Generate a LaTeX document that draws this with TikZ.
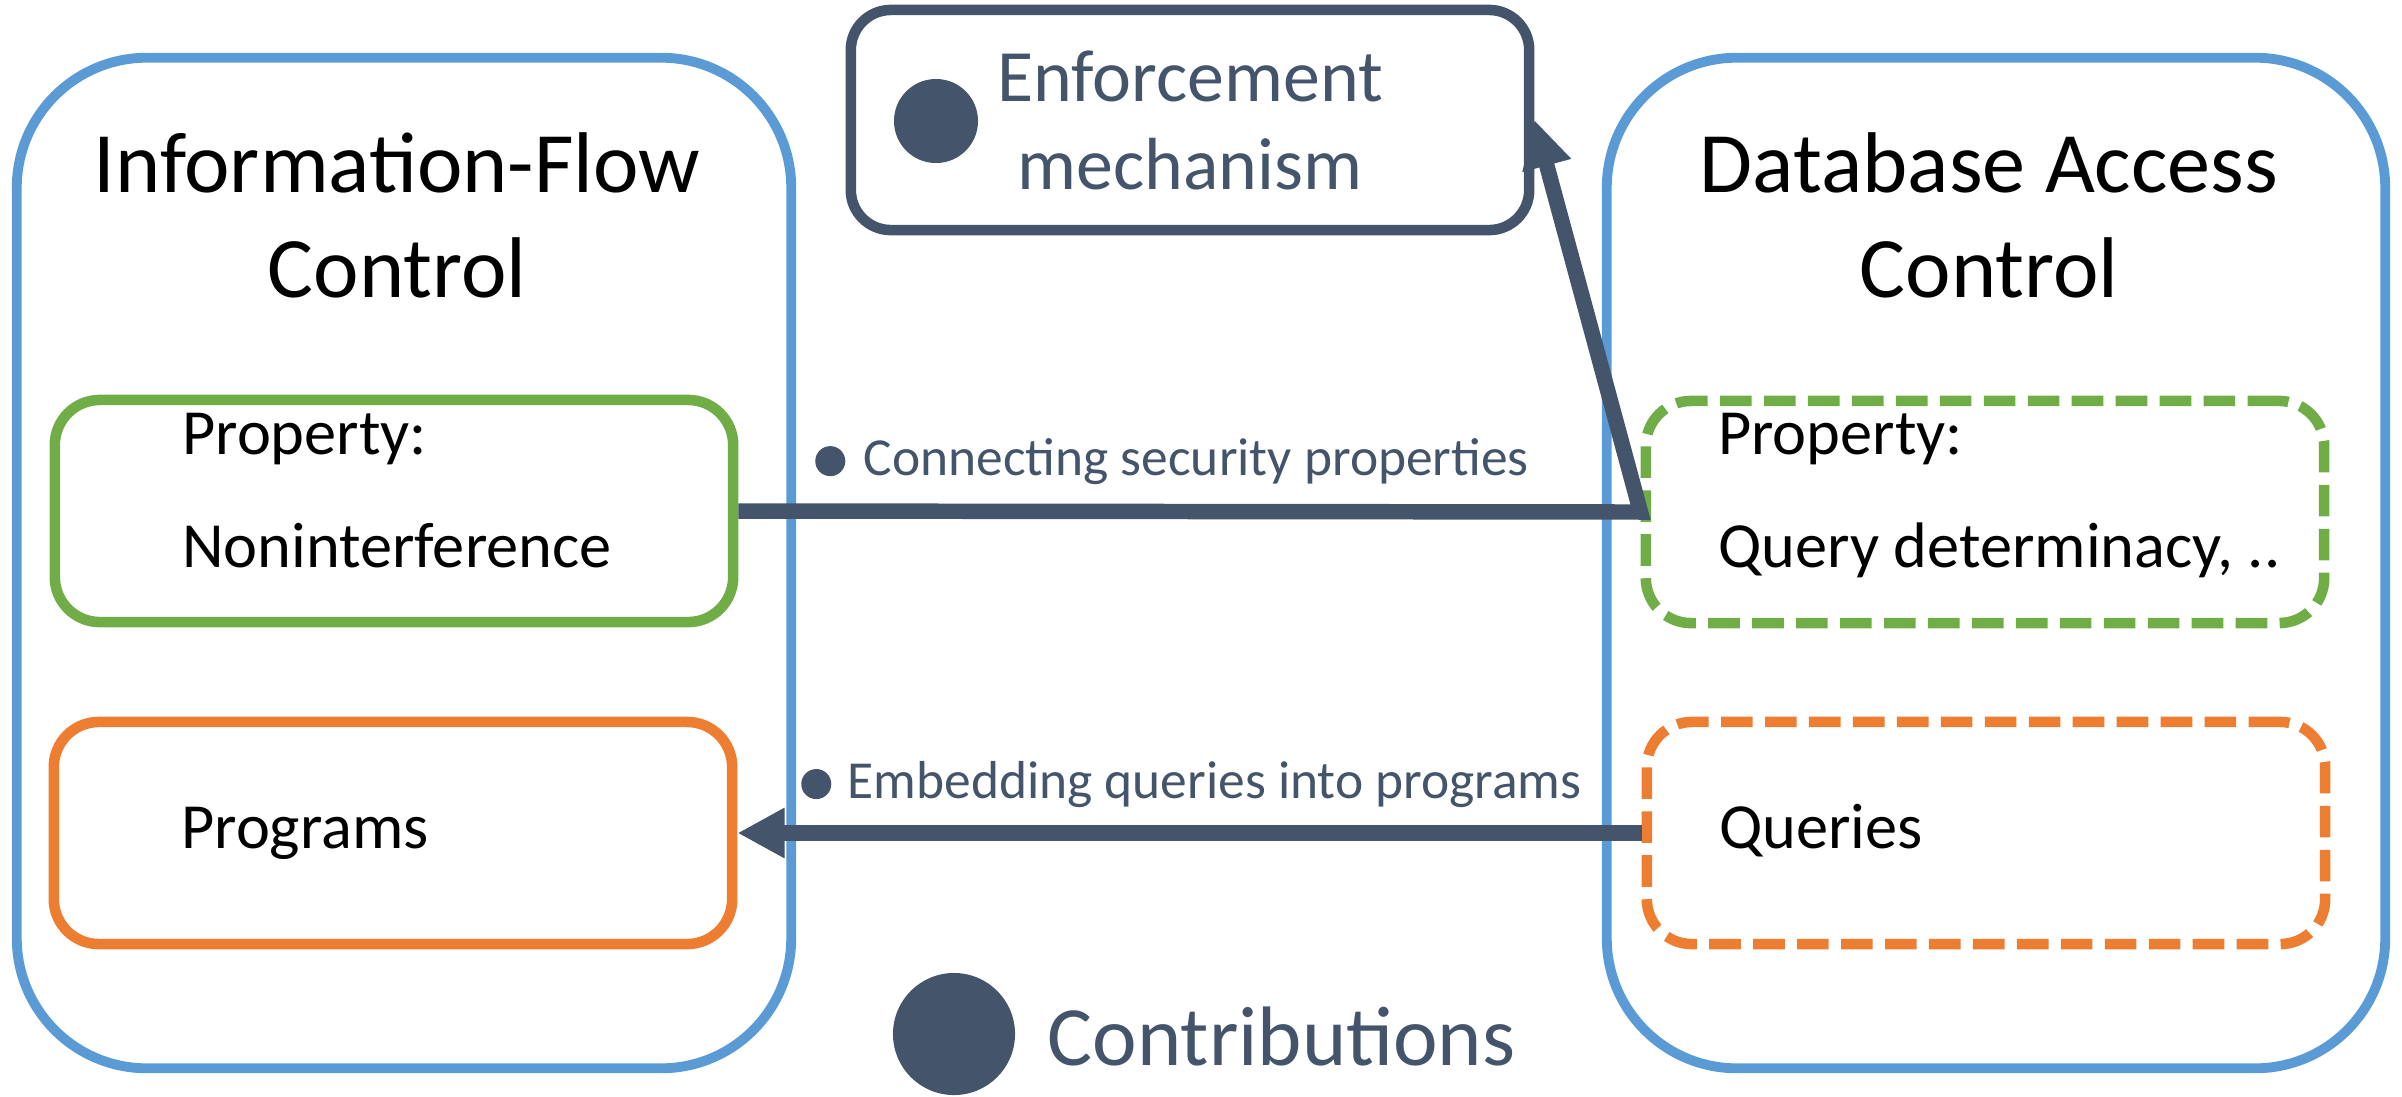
\documentclass[tikz,border=0pt]{standalone}
\usepackage{fontspec}
\setmainfont{Carlito}
\usepackage{tikz}
\usetikzlibrary{arrows.meta,shapes,calc,positioning}
\definecolor{offBlue}{HTML}{5B9BD5}
\definecolor{offGreen}{HTML}{70AD47}
\definecolor{offOrange}{HTML}{ED7D31}
\definecolor{offSlate}{HTML}{44546A}
\tikzstyle{outerBox} = [draw=offBlue, line width=2.8pt, rounded corners=1.3cm, minimum width=7.74cm, minimum height=10.1cm]
\tikzstyle{innerBox} = [line width=3pt, rounded corners=0.45cm, minimum width=6.78cm, minimum height=2.22cm]
\tikzstyle{dashBox} = [innerBox, dash pattern=on 9pt off 3.5pt]
\tikzstyle{enfBox} = [draw=offSlate, line width=3pt, rounded corners=0.4cm, minimum width=6.78cm, minimum height=2.2cm, align=center, text=offSlate, font=\fontsize{21}{25}\selectfont]
\tikzstyle{connArrow} = [draw=offSlate, line width=4.4pt, -{Triangle[length=13.4pt,width=13.4pt]}]
\tikzstyle{dotMark} = [circle, fill=offSlate, inner sep=0pt]
\tikzstyle{titleText} = [align=center, inner sep=0pt, font=\fontsize{24.5}{29.6}\selectfont]
\tikzstyle{boxText} = [align=left, inner sep=0pt, font=\fontsize{18.3}{32}\selectfont]
\tikzstyle{noteText} = [text=offSlate, inner sep=0pt, font=\fontsize{15.2}{18}\selectfont]

\begin{document}
\begin{tikzpicture}[x=0.01cm,y=-0.01cm]
	\useasboundingbox (0,0) rectangle (2402,1096);
	\node[outerBox] (ifc) at (404,563) {};
	\node[outerBox, minimum width=7.78cm] (dac) at (1996,563) {};
	\node[titleText, anchor=base] (ifcTitle) at (397,297) {Information-Flow\\Control};
	\node[titleText, anchor=base] (dacTitle) at (1989,297) {Database Access\\Control};
	\node[innerBox, draw=offGreen] (propL) at (394,511) {};
	\node[innerBox, draw=offOrange] (progL) at (393,833) {};
	\node[dashBox, draw=offGreen] (propR) at (1985,512) {};
	\node[dashBox, draw=offOrange] (queryR) at (1986,833) {};
	\node[boxText, anchor=base west] (propLText) at ([xshift=1.32cm,yshift=-0.56cm]propL.west) {Property:\\Noninterference};
	\node[boxText, anchor=base west] (progLText) at ([xshift=1.32cm,yshift=-0.15cm]progL.west) {Programs};
	\node[boxText, anchor=base west] (propRText) at ([xshift=0.77cm,yshift=-0.55cm]propR.west) {Property:\\Query determinacy, ..};
	\node[boxText, anchor=base west] (queryRText) at ([xshift=0.77cm,yshift=-0.15cm]queryR.west) {Queries};
	\node[enfBox] (enf) at (1190,120) {Enforcement\\mechanism};
	\node[dotMark, minimum size=0.84cm] (enfDot) at (936,121) {};
	\draw[connArrow] (propL.east) -- (propR.west) -- (enf.east);
	\draw[connArrow] (queryR.west) -- (progL.east);
	\node[noteText, anchor=base west] (connNote) at (863,475) {Connecting security properties};
	\node[dotMark, minimum size=0.3cm, left=0.17cm of connNote.west] (connDot) {};
	\node[noteText, anchor=base west] (embNote) at (847,798) {Embedding queries into programs};
	\node[dotMark, minimum size=0.3cm, left=0.15cm of embNote.west] (embDot) {};
	\node[text=offSlate, inner sep=0pt, anchor=base west, font=\fontsize{24}{29}\selectfont] (contrib) at (1047,1065) {Contributions};
	\node[dotMark, minimum size=1.22cm] (contribDot) at (954,1034) {};
\end{tikzpicture}
\end{document}
